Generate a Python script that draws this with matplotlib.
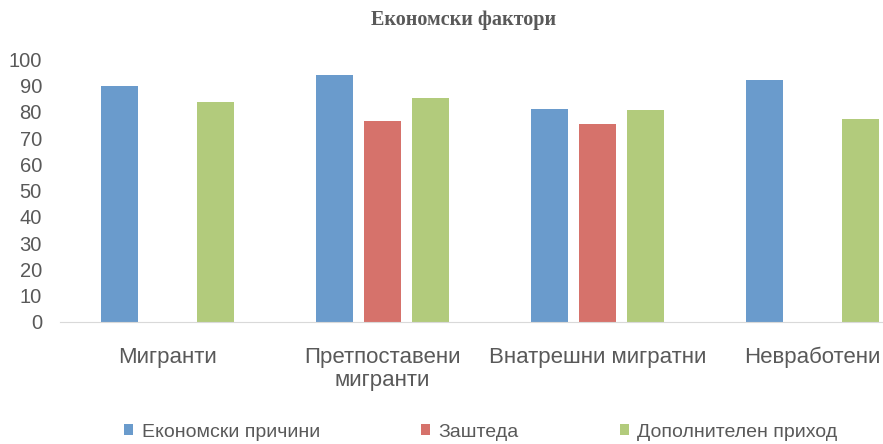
import numpy as np
import matplotlib
matplotlib.use('Agg')
import matplotlib.pyplot as plt
from matplotlib.patches import Patch

categories = ["Мигранти", "Претпоставени\nмигранти", "Внатрешни мигратни", "Невработени"]
series_names = ["Економски причини", "Заштеда", "Дополнителен приход"]
economic = [90, 94, 81, 92.3]
savings = [np.nan, 76.5, 75.4, np.nan]
extra_income = [83.8, 85.4, 80.6, 77.3]
colors = ["#6a9bcc", "#d6726b", "#b2cb7c"]
yticks = list(range(0, 101, 10))

plt.rcParams['font.family'] = ['Liberation Sans', 'DejaVu Sans']
gray = "#595959"

fig = plt.figure(figsize=(8.83, 4.44), dpi=100)
# axes spans past the right edge, like the cropped original
ax = fig.add_axes([60 / 883, (444 - 321.7) / 444, 860 / 883, 262.2 / 444])

x = np.arange(len(categories))
width = 0.172
step = 0.2233
for i, (vals, col) in enumerate(zip([economic, savings, extra_income], colors)):
    ax.bar(x + (i - 1) * step, vals, width, color=col, edgecolor='none')

ax.set_xlim(-0.5, len(categories) - 0.5)
ax.set_ylim(0, 100)
ax.set_yticks(yticks)
ax.set_yticklabels([str(t) for t in yticks])
ax.set_xticks(x)
ax.set_xticklabels(categories, linespacing=1.15)

for s in ['top', 'right', 'left']:
    ax.spines[s].set_visible(False)
ax.spines['bottom'].set_color('#d9d9d9')
ax.tick_params(axis='y', length=0, pad=13, labelsize=14.5, labelcolor=gray)
ax.tick_params(axis='x', length=0, pad=18, labelsize=16, labelcolor=gray)

fig.text(464 / 883, 1 - 20 / 444, "Економски фактори", ha='center', va='center',
         family=['Liberation Serif', 'DejaVu Serif'], weight='bold', fontsize=14.5, color=gray)

handles = [Patch(facecolor=c, edgecolor='none') for c in colors]
fig.legend(handles, series_names, loc='center', bbox_to_anchor=(481 / 883, 1 - 432 / 444),
           ncol=3, frameon=False, fontsize=14, labelcolor=gray,
           handlelength=0.45, handleheight=0.45, handletextpad=0.45, columnspacing=5.2)

fig.savefig("out.png", dpi=100)
